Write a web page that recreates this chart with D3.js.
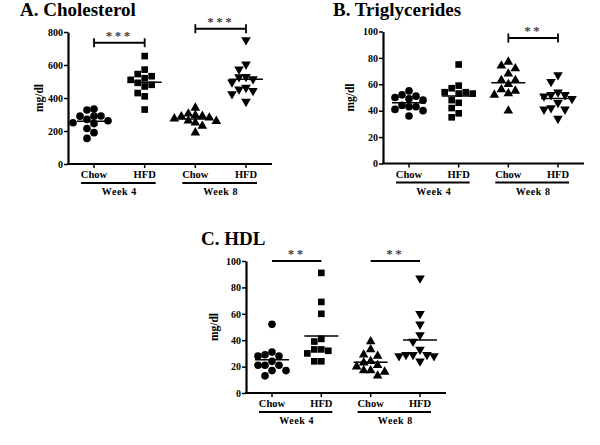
<!DOCTYPE html>
<html>
<head>
<meta charset="utf-8">
<style>
  body { margin: 0; background: #fff; }
  svg text { font-family: "Liberation Serif", "Times New Roman", serif; font-weight: bold; }
</style>
</head>
<body>
<script src="https://cdn.jsdelivr.net/npm/d3@7"></script>
<script>
  const width = 600
  const height = 445

  // groups on the x axis
  const groups = ["Chow", "HFD", "Chow", "HFD"]
  const weeks = ["Week 4", "Week 8"]

  // A. Cholesterol (mg/dl)
  const cholChow4 = [333, 327, 291, 290, 290, 270, 262, 250, 245, 215, 190, 155]
  const cholHfd4 = [654, 572, 545, 532, 520, 510, 492, 480, 470, 430, 410, 330]
  const cholChow8 = [340, 305, 295, 290, 288, 280, 275, 260, 250, 262, 230, 190]
  const cholHfd8 = [752, 604, 574, 529, 527, 515, 495, 463, 453, 444, 424, 378]
  const cholTicks = [0, 200, 400, 600, 800]

  // B. Triglycerides (mg/dl)
  const trigChow4 = [55, 52, 51, 49, 48, 50, 44, 43, 43, 41, 40, 36]
  const trigHfd4 = [75, 59, 57, 54, 54, 53, 53, 48, 46, 42, 38, 35]
  const trigChow8 = [77, 74, 72, 68, 63, 63, 60, 56, 55, 53, 52, 40]
  const trigHfd8 = [67, 62, 54, 52, 52, 51, 49, 46, 42, 41, 41, 34]
  const pctTicks = [0, 20, 40, 60, 80, 100]

  // C. HDL (mg/dl)
  const hdlChow4 = [52, 31, 29, 28, 28, 24, 21, 21, 21, 17, 17, 13]
  const hdlHfd4 = [91, 69, 60, 41, 39, 33, 33, 32, 30, 24, 24]
  const hdlChow8 = [39, 33, 29, 28, 24, 23, 21, 20, 17, 17, 16, 13]
  const hdlHfd8 = [87, 60, 52, 44, 39, 33, 29, 29, 29, 28, 28, 24]

  // significance: [group a, group b, level in data units, label]
  const cholSig = [[0, 1, 735, "***"], [2, 3, 820, "***"]]
  const trigSig = [[2, 3, 95, "**"]]
  const hdlSig = [[0, 1, 100, "**"], [2, 3, 100, "**"]]

  const symbols = [d3.symbolCircle, d3.symbolSquare, d3.symbolTriangle, d3.symbolTriangle]
  const symbolSize = [46, 44, 40, 40]
  const symbolRotate = [0, 0, 0, 180]

  const panels = [
    { title: "A. Cholesterol", titleX: 20, titleY: 16, left: 68, right: 272, top: 32, bottom: 164,
      max: 800, ticks: cholTicks, data: [cholChow4, cholHfd4, cholChow8, cholHfd8], sig: cholSig, caps: true, labelX: 43 },
    { title: "B. Triglycerides", titleX: 333, titleY: 16, left: 383, right: 584, top: 31.5, bottom: 163.5,
      max: 100, ticks: pctTicks, data: [trigChow4, trigHfd4, trigChow8, trigHfd8], sig: trigSig, caps: true, labelX: 354 },
    { title: "C. HDL", titleX: 201, titleY: 245, left: 246, right: 446, top: 261, bottom: 393,
      max: 100, ticks: pctTicks, data: [hdlChow4, hdlHfd4, hdlChow8, hdlHfd8], sig: hdlSig, caps: false, labelX: 218 }
  ]

  const svg = d3.select("body").append("svg")
    .attr("width", width)
    .attr("height", height)

  // simple beeswarm so points with close values spread sideways
  function swarm(values, y, step, minDist) {
    const placed = []
    const sorted = values.map((v, i) => ({ v, i, y: y(v) })).sort((a, b) => a.y - b.y)
    sorted.forEach(p => {
      p.dx = 0
      for (let k = 0; k < 9; k++) {
        const off = k === 0 ? 0 : (k % 2 ? -1 : 1) * Math.ceil(k / 2) * step
        const ok = placed.every(q => Math.hypot(q.dx - off, q.y - p.y) >= minDist)
        if (ok) { p.dx = off; break }
      }
      placed.push(p)
    })
    return placed
  }

  function renderPanel(p) {
    const g = svg.append("g")

    const y = d3.scaleLinear().domain([0, p.max]).range([p.bottom, p.top])
    const x = d3.scalePoint().domain(d3.range(groups.length)).range([p.left + 26, p.right - 26])

    g.append("text")
      .attr("x", p.titleX)
      .attr("y", p.titleY)
      .attr("font-size", 19)
      .text(p.title)

    // y axis
    const yAxis = g.append("g")
      .attr("transform", `translate(${p.left},0)`)
      .call(d3.axisLeft(y).tickValues(p.ticks).tickSize(4).tickSizeOuter(0).tickPadding(1))
    yAxis.select(".domain").attr("stroke-width", 2.2)
    yAxis.selectAll(".tick line").attr("stroke-width", 1.5)
    yAxis.selectAll(".tick text")
      .attr("font-family", "Liberation Serif, serif")
      .attr("font-weight", "bold")
      .attr("font-size", 10)
      .attr("fill", "#000")

    g.append("text")
      .attr("transform", `translate(${p.labelX},${(p.top + p.bottom) / 2}) rotate(-90)`)
      .attr("text-anchor", "middle")
      .attr("font-size", 11.5)
      .text("mg/dl")

    // x axis
    g.append("line")
      .attr("x1", p.left - 1).attr("x2", p.right)
      .attr("y1", p.bottom).attr("y2", p.bottom)
      .attr("stroke", "#000").attr("stroke-width", 2.2)

    g.selectAll(".xtick").data(groups).join("line")
      .attr("x1", (d, i) => x(i)).attr("x2", (d, i) => x(i))
      .attr("y1", p.bottom).attr("y2", p.bottom + 4)
      .attr("stroke", "#000").attr("stroke-width", 1.5)

    g.selectAll(".xlab").data(groups).join("text")
      .attr("x", (d, i) => x(i))
      .attr("y", p.bottom + 14)
      .attr("text-anchor", "middle")
      .attr("font-size", 10.5)
      .text(d => d)

    weeks.forEach((w, j) => {
      const a = x(j * 2), b = x(j * 2 + 1)
      g.append("line")
        .attr("x1", a - 13).attr("x2", b + 11)
        .attr("y1", p.bottom + 19).attr("y2", p.bottom + 19)
        .attr("stroke", "#000").attr("stroke-width", 2)
      g.append("text")
        .attr("x", (a + b) / 2)
        .attr("y", p.bottom + 31)
        .attr("text-anchor", "middle")
        .attr("font-size", 10)
        .attr("letter-spacing", 0.6)
        .text(w)
    })

    // points
    p.data.forEach((vals, gi) => {
      const pts = swarm(vals, y, 7, 7)
      const sym = d3.symbol().type(symbols[gi]).size(symbolSize[gi])
      g.selectAll(null).data(pts).join("path")
        .attr("d", sym)
        .attr("transform", d => `translate(${x(gi) + d.dx},${d.y}) rotate(${symbolRotate[gi]})`)
        .attr("fill", "#000")

      const m = d3.mean(vals)
      g.append("line")
        .attr("x1", x(gi) - 17).attr("x2", x(gi) + 17)
        .attr("y1", y(m)).attr("y2", y(m))
        .attr("stroke", "#000").attr("stroke-width", 1.5)
    })

    // significance bars
    p.sig.forEach(([a, b, level, label]) => {
      const yy = y(level)
      g.append("line")
        .attr("x1", x(a)).attr("x2", x(b))
        .attr("y1", yy).attr("y2", yy)
        .attr("stroke", "#000").attr("stroke-width", 2)
      if (p.caps) {
        [a, b].forEach(k => {
          g.append("line")
            .attr("x1", x(k)).attr("x2", x(k))
            .attr("y1", yy - 4.5).attr("y2", yy + 4.5)
            .attr("stroke", "#000").attr("stroke-width", 1.8)
        })
      }
      g.append("text")
        .attr("x", (x(a) + x(b)) / 2)
        .attr("y", yy - 3)
        .attr("text-anchor", "middle")
        .attr("font-size", 13)
        .attr("font-weight", "normal")
        .attr("letter-spacing", 2.5)
        .attr("fill", "#444")
        .text(label)
    })
  }

  panels.forEach(renderPanel)
</script>
</body>
</html>
